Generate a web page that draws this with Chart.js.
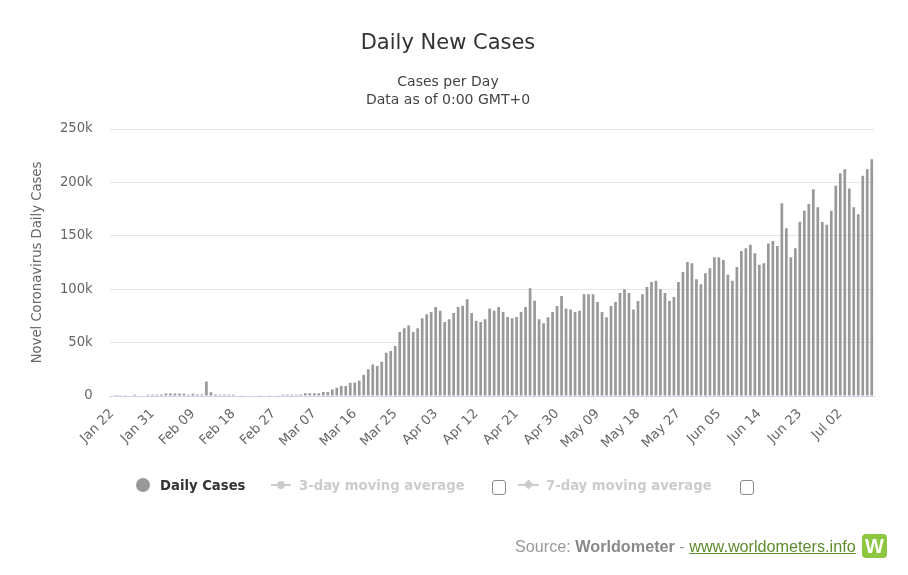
<!DOCTYPE html>
<html>
<head>
<meta charset="utf-8">
<script src="https://cdn.jsdelivr.net/npm/chart.js@4.4.1/dist/chart.umd.min.js"></script>
<style>
  html, body { margin: 0; padding: 0; background: #fff; }
  #wrap { position: relative; width: 908px; height: 575px; overflow: hidden; }
  #c { position: absolute; left: 0; top: 0; }
  .lg { position: absolute; font-family: "DejaVu Sans Condensed", "DejaVu Sans", sans-serif; font-weight: bold; font-size: 14.7px; line-height: 20px; white-space: nowrap; }
  .box { position: absolute; width: 12px; height: 13px; border: 1px solid #8a8a8a; border-radius: 3px; background: #fff; }
  #credits { position: absolute; left: 515px; top: 536px; font-family: "Liberation Sans", Arial, sans-serif; font-size: 16.2px; line-height: 20px; color: #999; white-space: nowrap; }
  #credits b { color: #888; }
  #credits a { color: #5f8c2e; text-decoration: underline; }
  #logo { position: absolute; left: 862px; top: 534px; width: 25px; height: 24px; border-radius: 4px; background: #8dc63f; color: #fff; font-family: "Liberation Sans", Arial, sans-serif; font-weight: bold; font-size: 20px; line-height: 24px; text-align: center; }
</style>
</head>
<body>
<div id="wrap">
  <canvas id="c" width="908" height="575"></canvas>

  <div style="position:absolute;left:136px;top:478px;width:14px;height:14px;border-radius:50%;background:#999;"></div>
  <div class="lg" style="left:160px;top:475px;color:#333;">Daily Cases</div>

  <div style="position:absolute;left:271px;top:484px;width:20px;height:2px;background:#ccc;"></div>
  <div style="position:absolute;left:277px;top:481px;width:8px;height:8px;border-radius:50%;background:#ccc;"></div>
  <div class="lg" style="left:299px;top:475px;color:#ccc;">3-day moving average</div>
  <div class="box" style="left:492px;top:480px;"></div>

  <div style="position:absolute;left:518px;top:484px;width:21px;height:2px;background:#ccc;"></div>
  <div style="position:absolute;left:525px;top:481px;width:7px;height:7px;background:#ccc;transform:rotate(45deg);"></div>
  <div class="lg" style="left:546px;top:475px;color:#ccc;">7-day moving average</div>
  <div class="box" style="left:740px;top:480px;"></div>

  <div id="credits">Source: <b>Worldometer</b> - <a href="#">www.worldometers.info</a></div>
  <div id="logo">W</div>
</div>
<script>
const categories = [
  'Jan 22','Jan 23','Jan 24','Jan 25','Jan 26','Jan 27','Jan 28','Jan 29','Jan 30','Jan 31',
  'Feb 01','Feb 02','Feb 03','Feb 04','Feb 05','Feb 06','Feb 07','Feb 08','Feb 09','Feb 10',
  'Feb 11','Feb 12','Feb 13','Feb 14','Feb 15','Feb 16','Feb 17','Feb 18','Feb 19','Feb 20',
  'Feb 21','Feb 22','Feb 23','Feb 24','Feb 25','Feb 26','Feb 27','Feb 28','Feb 29',
  'Mar 01','Mar 02','Mar 03','Mar 04','Mar 05','Mar 06','Mar 07','Mar 08','Mar 09','Mar 10',
  'Mar 11','Mar 12','Mar 13','Mar 14','Mar 15','Mar 16','Mar 17','Mar 18','Mar 19','Mar 20',
  'Mar 21','Mar 22','Mar 23','Mar 24','Mar 25','Mar 26','Mar 27','Mar 28','Mar 29','Mar 30','Mar 31',
  'Apr 01','Apr 02','Apr 03','Apr 04','Apr 05','Apr 06','Apr 07','Apr 08','Apr 09','Apr 10',
  'Apr 11','Apr 12','Apr 13','Apr 14','Apr 15','Apr 16','Apr 17','Apr 18','Apr 19','Apr 20',
  'Apr 21','Apr 22','Apr 23','Apr 24','Apr 25','Apr 26','Apr 27','Apr 28','Apr 29','Apr 30',
  'May 01','May 02','May 03','May 04','May 05','May 06','May 07','May 08','May 09','May 10',
  'May 11','May 12','May 13','May 14','May 15','May 16','May 17','May 18','May 19','May 20',
  'May 21','May 22','May 23','May 24','May 25','May 26','May 27','May 28','May 29','May 30','May 31',
  'Jun 01','Jun 02','Jun 03','Jun 04','Jun 05','Jun 06','Jun 07','Jun 08','Jun 09','Jun 10',
  'Jun 11','Jun 12','Jun 13','Jun 14','Jun 15','Jun 16','Jun 17','Jun 18','Jun 19','Jun 20',
  'Jun 21','Jun 22','Jun 23','Jun 24','Jun 25','Jun 26','Jun 27','Jun 28','Jun 29','Jun 30',
  'Jul 01','Jul 02','Jul 03','Jul 04','Jul 05','Jul 06','Jul 07','Jul 08','Jul 09'
];

const dailyCases = [
  0, 100, 250, 300, 400, 1200, 500, 400, 1200, 1200,
  1200, 1400, 2300, 2300, 2300, 2300, 2200, 1200, 2000, 1300,
  1300, 13500, 3500, 1300, 1200, 1200, 1100, 1200, 500, 600,
  400, 500, 400, 600, 500, 600, 500, 600, 1200,
  1200, 1200, 1200, 1500, 2500, 2500, 2500, 2500, 3700, 3700,
  6200, 7800, 9300, 9300, 12400, 12400, 14300, 20000, 25000, 29500,
  28000, 32000, 40400, 42200, 46800, 60000, 63400, 65900, 60000, 63400, 72700,
  76500, 78700, 83300, 79900, 69300, 71800, 77700, 83300, 84600, 90500,
  77700, 70500, 69300, 71800, 82000, 79900, 83300, 78700, 74000, 72700,
  74000, 78700, 83300, 100800, 89300, 71800, 68200, 73700, 78700, 84300,
  93600, 82000, 81100, 78700, 79900, 95200, 95200, 95200, 88000, 78700,
  73700, 84300, 88000, 96400, 99900, 96400, 81100, 89000, 95200, 102000,
  106700, 108000, 99900, 96400, 89000, 92700, 106700, 116100, 125500, 124200, 109200,
  104600, 114900, 119500, 129800, 129800, 127300, 113600, 108000, 120800, 135800,
  138300, 141700, 133600, 123000, 124200, 142900, 145100, 140400, 180400, 157000,
  129800, 138300, 163200, 173500, 179800, 193500, 176700, 162900, 160400, 173500,
  196900, 208500, 212200, 194400, 176700, 170100, 206300, 212200, 221600
];

const tickLabels = ['Jan 22','Jan 31','Feb 09','Feb 18','Feb 27','Mar 07','Mar 16','Mar 25',
  'Apr 03','Apr 12','Apr 21','Apr 30','May 09','May 18','May 27','Jun 05','Jun 14','Jun 23','Jul 02'];

const yTicks = [0, 50000, 100000, 150000, 200000, 250000];

const baseFont = 'DejaVu Sans';

new Chart(document.getElementById('c'), {
  type: 'bar',
  data: {
    labels: categories,
    datasets: [{
      label: 'Daily Cases',
      data: dailyCases,
      backgroundColor: '#999999',
      borderWidth: 0,
      barPercentage: 0.75,
      categoryPercentage: 0.8
    }]
  },
  options: {
    responsive: false,
    animation: false,
    devicePixelRatio: 1,
    layout: { padding: { left: 22, right: 34, top: 0, bottom: 119 } },
    plugins: {
      legend: { display: false },
      tooltip: { enabled: false },
      title: {
        display: true,
        text: 'Daily New Cases',
        color: '#333333',
        font: { family: baseFont, size: 21, weight: 'normal', lineHeight: 1.2 },
        padding: { top: 31.4, bottom: 0 }
      },
      subtitle: {
        display: true,
        text: ['Cases per Day', 'Data as of 0:00 GMT+0'],
        color: '#444444',
        font: { family: baseFont, size: 14, weight: 'normal', lineHeight: 1.3 },
        padding: { top: 16.3, bottom: 19.7 }
      }
    },
    scales: {
      x: {
        grid: { display: false },
        border: { display: true, color: '#ccd6eb', width: 1 },
        ticks: {
          autoSkip: false,
          maxRotation: 45,
          minRotation: 45,
          color: '#666666',
          padding: 2,
          font: { family: baseFont, size: 13.2 },
          callback: function (v, i) {
            const l = categories[i];
            return tickLabels.includes(l) ? l : null;
          }
        },
        afterFit: function (s) { s.height = 60; }
      },
      y: {
        min: 0,
        max: 250000,
        afterBuildTicks: function (s) { s.ticks = yTicks.map(v => ({ value: v })); },
        grid: { color: '#e6e6e6', lineWidth: 1, drawTicks: false },
        border: { display: false },
        ticks: {
          color: '#666666',
          padding: 17,
          font: { family: baseFont, size: 13.2 },
          callback: function (v) { return v === 0 ? '0' : (v / 1000) + 'k'; }
        },
        title: {
          display: true,
          text: 'Novel Coronavirus Daily Cases',
          color: '#666666',
          font: { family: baseFont, size: 13.2 },
          padding: { top: 8, bottom: 0 }
        },
        afterFit: function (s) { s.width = 87.75; }
      }
    }
  }
});
</script>
</body>
</html>
